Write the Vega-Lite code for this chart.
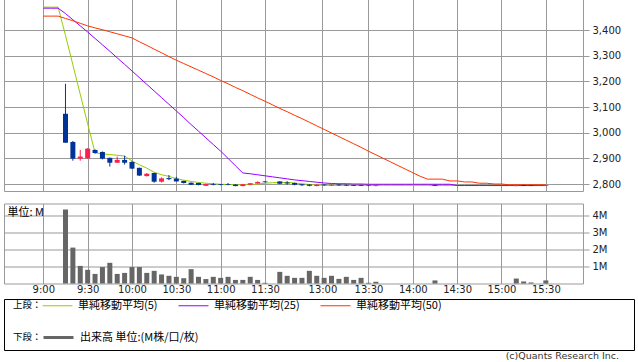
{
  "$schema": "https://vega.github.io/schema/vega-lite/v6.json",
  "padding": {"left": 3, "top": -3, "right": 0, "bottom": 0},
  "background": "white",
  "config": {
    "font": "DejaVu Sans",
    "axis": {"labelFont": "DejaVu Sans", "labelFontSize": 10, "labelColor": "#222", "gridColor": "#999", "gridWidth": 1, "domainColor": "#999", "tickColor": "#999", "labelFlush": false},
    "legend": {"padding": 0, "labelFont": "Noto Sans CJK JP", "labelFontSize": 11, "labelColor": "#000", "titleFont": "Noto Sans CJK JP", "titleFontSize": 9.5, "titleFontWeight": "normal", "titleColor": "#000"},
    "title": {"font": "DejaVu Sans", "fontWeight": "normal"}
  },
  "datasets": {
    "bars": [
      {"t": "9:15", "s": 3, "o": 3074, "h": 3191, "l": 2961, "c": 2961, "v": 4.33},
      {"t": "9:20", "s": 4, "o": 2964, "h": 2968, "l": 2891, "c": 2899, "v": 2.10},
      {"t": "9:25", "s": 5, "o": 2899, "h": 2933, "l": 2891, "c": 2907, "v": 1.03},
      {"t": "9:30", "s": 6, "o": 2900, "h": 2940, "l": 2899, "c": 2938, "v": 0.80},
      {"t": "9:35", "s": 7, "o": 2933, "h": 2935, "l": 2918, "c": 2921, "v": 0.56},
      {"t": "9:40", "s": 8, "o": 2925, "h": 2927, "l": 2896, "c": 2899, "v": 0.96},
      {"t": "9:45", "s": 9, "o": 2902, "h": 2903, "l": 2868, "c": 2883, "v": 1.21},
      {"t": "9:50", "s": 10, "o": 2883, "h": 2907, "l": 2882, "c": 2894, "v": 0.56},
      {"t": "9:55", "s": 11, "o": 2894, "h": 2910, "l": 2876, "c": 2883, "v": 0.62},
      {"t": "10:00", "s": 12, "o": 2886, "h": 2889, "l": 2859, "c": 2860, "v": 0.96},
      {"t": "10:05", "s": 13, "o": 2863, "h": 2864, "l": 2831, "c": 2833, "v": 0.96},
      {"t": "10:10", "s": 14, "o": 2831, "h": 2843, "l": 2829, "c": 2840, "v": 0.62},
      {"t": "10:15", "s": 15, "o": 2843, "h": 2844, "l": 2805, "c": 2809, "v": 0.74},
      {"t": "10:20", "s": 16, "o": 2809, "h": 2826, "l": 2806, "c": 2822, "v": 0.53},
      {"t": "10:25", "s": 17, "o": 2823, "h": 2835, "l": 2815, "c": 2819, "v": 0.45},
      {"t": "10:30", "s": 18, "o": 2821, "h": 2828, "l": 2809, "c": 2810, "v": 0.39},
      {"t": "10:35", "s": 19, "o": 2812, "h": 2813, "l": 2802, "c": 2804, "v": 0.31},
      {"t": "10:40", "s": 20, "o": 2805, "h": 2806, "l": 2796, "c": 2797, "v": 0.84},
      {"t": "10:45", "s": 21, "o": 2804, "h": 2805, "l": 2795, "c": 2796, "v": 0.39},
      {"t": "10:50", "s": 22, "o": 2793, "h": 2801, "l": 2792, "c": 2800, "v": 0.26},
      {"t": "10:55", "s": 23, "o": 2800, "h": 2804, "l": 2795, "c": 2797, "v": 0.39},
      {"t": "11:00", "s": 24, "o": 2799, "h": 2800, "l": 2795, "c": 2796, "v": 0.33},
      {"t": "11:05", "s": 25, "o": 2800, "h": 2804, "l": 2795, "c": 2797, "v": 0.39},
      {"t": "11:10", "s": 26, "o": 2798, "h": 2799, "l": 2791, "c": 2792, "v": 0.21},
      {"t": "11:15", "s": 27, "o": 2792, "h": 2800, "l": 2791, "c": 2799, "v": 0.21},
      {"t": "11:20", "s": 28, "o": 2797, "h": 2804, "l": 2796, "c": 2803, "v": 0.39},
      {"t": "11:25", "s": 29, "o": 2802, "h": 2810, "l": 2801, "c": 2808, "v": 0.21},
      {"t": "11:30", "s": 30, "o": 2810, "h": 2811, "l": 2806, "c": 2807, "v": 0.04},
      {"t": "12:30", "s": 32, "o": 2810, "h": 2811, "l": 2799, "c": 2801, "v": 0.68},
      {"t": "12:35", "s": 33, "o": 2806, "h": 2811, "l": 2797, "c": 2802, "v": 0.45},
      {"t": "12:40", "s": 34, "o": 2804, "h": 2805, "l": 2795, "c": 2797, "v": 0.33},
      {"t": "12:45", "s": 35, "o": 2799, "h": 2800, "l": 2793, "c": 2795, "v": 0.33},
      {"t": "12:50", "s": 36, "o": 2798, "h": 2799, "l": 2791, "c": 2793, "v": 0.74},
      {"t": "12:55", "s": 37, "o": 2792, "h": 2799, "l": 2791, "c": 2797, "v": 0.45},
      {"t": "13:00", "s": 38, "o": 2798, "h": 2799, "l": 2793, "c": 2795, "v": 0.33},
      {"t": "13:05", "s": 39, "o": 2794, "h": 2799, "l": 2793, "c": 2797, "v": 0.45},
      {"t": "13:10", "s": 40, "o": 2798, "h": 2799, "l": 2793, "c": 2795, "v": 0.27},
      {"t": "13:15", "s": 41, "o": 2797, "h": 2798, "l": 2792, "c": 2794, "v": 0.39},
      {"t": "13:20", "s": 42, "o": 2796, "h": 2797, "l": 2792, "c": 2793, "v": 0.21},
      {"t": "13:25", "s": 43, "o": 2796, "h": 2797, "l": 2792, "c": 2793, "v": 0.33},
      {"t": "13:30", "s": 44, "o": 2795, "h": 2796, "l": 2792, "c": 2793, "v": 0.04},
      {"t": "13:35", "s": 45, "o": 2792, "h": 2796, "l": 2791, "c": 2795, "v": 0.10},
      {"t": "14:15", "s": 53, "o": 2796, "h": 2797, "l": 2792, "c": 2793, "v": 0.18},
      {"t": "15:10", "s": 64, "o": 2792, "h": 2797, "l": 2791, "c": 2795, "v": 0.29},
      {"t": "15:15", "s": 65, "o": 2796, "h": 2797, "l": 2792, "c": 2793, "v": 0.12},
      {"t": "15:20", "s": 66, "o": 2795, "h": 2796, "l": 2792, "c": 2793, "v": 0.06},
      {"t": "15:30", "s": 68, "o": 2793, "h": 2797, "l": 2792, "c": 2796, "v": 0.18}
    ],
    "ma": [
      {"s": 0, "m5": 3490, "m25": 3486, "m50": 3455},
      {"s": 1, "m5": 3490, "m25": 3486, "m50": 3455},
      {"s": 2, "m5": 3490, "m25": 3486, "m50": 3455},
      {"s": 3, "m5": 3380, "m25": 3465, "m50": 3446},
      {"s": 4, "m5": 3265, "m25": 3441, "m50": 3437},
      {"s": 5, "m5": 3150, "m25": 3417, "m50": 3427},
      {"s": 6, "m5": 3035, "m25": 3393, "m50": 3417},
      {"s": 7, "m5": 2922, "m25": 3368, "m50": 3409},
      {"s": 8, "m5": 2917, "m25": 3343, "m50": 3402},
      {"s": 9, "m5": 2915, "m25": 3318, "m50": 3394},
      {"s": 10, "m5": 2912, "m25": 3292, "m50": 3386},
      {"s": 11, "m5": 2909, "m25": 3267, "m50": 3378},
      {"s": 12, "m5": 2890, "m25": 3241, "m50": 3370},
      {"s": 13, "m5": 2875, "m25": 3215, "m50": 3355},
      {"s": 14, "m5": 2862, "m25": 3189, "m50": 3341},
      {"s": 15, "m5": 2846, "m25": 3163, "m50": 3326},
      {"s": 16, "m5": 2836, "m25": 3137, "m50": 3312},
      {"s": 17, "m5": 2830, "m25": 3111, "m50": 3297},
      {"s": 18, "m5": 2821, "m25": 3085, "m50": 3283},
      {"s": 19, "m5": 2815, "m25": 3059, "m50": 3270},
      {"s": 20, "m5": 2810, "m25": 3032, "m50": 3257},
      {"s": 21, "m5": 2806, "m25": 3006, "m50": 3244},
      {"s": 22, "m5": 2803, "m25": 2980, "m50": 3231},
      {"s": 23, "m5": 2801, "m25": 2954, "m50": 3218},
      {"s": 24, "m5": 2799, "m25": 2928, "m50": 3204},
      {"s": 25, "m5": 2798, "m25": 2900, "m50": 3191},
      {"s": 26, "m5": 2797, "m25": 2871, "m50": 3177},
      {"s": 27, "m5": 2797, "m25": 2843, "m50": 3164},
      {"s": 28, "m5": 2798, "m25": 2840, "m50": 3150},
      {"s": 29, "m5": 2800, "m25": 2836, "m50": 3136},
      {"s": 30, "m5": 2803, "m25": 2832, "m50": 3123},
      {"s": 31, "m5": 2805, "m25": 2828, "m50": 3109},
      {"s": 32, "m5": 2806, "m25": 2824, "m50": 3095},
      {"s": 33, "m5": 2806, "m25": 2820, "m50": 3082},
      {"s": 34, "m5": 2804, "m25": 2816, "m50": 3068},
      {"s": 35, "m5": 2801, "m25": 2813, "m50": 3055},
      {"s": 36, "m5": 2798, "m25": 2810, "m50": 3041},
      {"s": 37, "m5": 2796, "m25": 2807, "m50": 3027},
      {"s": 38, "m5": 2795, "m25": 2804, "m50": 3013},
      {"s": 39, "m5": 2795, "m25": 2802, "m50": 2999},
      {"s": 40, "m5": 2795, "m25": 2801, "m50": 2985},
      {"s": 41, "m5": 2795, "m25": 2801, "m50": 2971},
      {"s": 42, "m5": 2795, "m25": 2800, "m50": 2957},
      {"s": 43, "m5": 2795, "m25": 2800, "m50": 2943},
      {"s": 44, "m5": 2795, "m25": 2799, "m50": 2928},
      {"s": 45, "m5": 2795, "m25": 2799, "m50": 2914},
      {"s": 46, "m5": 2795, "m25": 2799, "m50": 2900},
      {"s": 47, "m5": 2795, "m25": 2799, "m50": 2886},
      {"s": 48, "m5": 2795, "m25": 2799, "m50": 2872},
      {"s": 49, "m5": 2795, "m25": 2799, "m50": 2858},
      {"s": 50, "m5": 2795, "m25": 2799, "m50": 2844},
      {"s": 51, "m5": 2795, "m25": 2799, "m50": 2830},
      {"s": 52, "m5": 2795, "m25": 2799, "m50": 2819},
      {"s": 53, "m5": 2794, "m25": 2799, "m50": 2819},
      {"s": 54, "m5": 2794, "m25": 2799, "m50": 2819},
      {"s": 55, "m5": 2794, "m25": 2799, "m50": 2812},
      {"s": 56, "m5": 2794, "m25": 2794, "m50": 2812},
      {"s": 57, "m5": 2794, "m25": 2794, "m50": 2808},
      {"s": 58, "m5": 2794, "m25": 2794, "m50": 2808},
      {"s": 59, "m5": 2794, "m25": 2794, "m50": 2803},
      {"s": 60, "m5": 2794, "m25": 2794, "m50": 2803},
      {"s": 61, "m5": 2794, "m25": 2794, "m50": 2800},
      {"s": 62, "m5": 2794, "m25": 2794, "m50": 2800},
      {"s": 63, "m5": 2794, "m25": 2794, "m50": 2797},
      {"s": 64, "m5": 2794, "m25": 2794, "m50": 2797},
      {"s": 65, "m5": 2794, "m25": 2794, "m50": 2797},
      {"s": 66, "m5": 2794, "m25": 2794, "m50": 2797},
      {"s": 67, "m5": 2794, "m25": 2794, "m50": 2797},
      {"s": 68, "m5": 2794, "m25": 2794, "m50": 2797}
    ]
  },
  "spacing": 3,
  "vconcat": [
    {
      "spacing": 10.5,
      "vconcat": [
        {
          "width": 579,
          "height": 193,
          "view": {"stroke": "#999"},
          "layer": [
            {
              "data": {"name": "ma"},
              "transform": [{"fold": ["m5", "m25", "m50"], "as": ["k", "val"]}],
              "mark": {"type": "line", "strokeWidth": 1, "interpolate": "linear"},
              "encoding": {
                "x": {"field": "s", "type": "quantitative", "scale": {"domain": [-5.32, 73.03], "nice": false, "zero": false, "padding": 0},
                  "axis": {"orient": "bottom", "values": [0, 6, 12, 18, 24, 30, 37.77, 44, 50, 56, 62, 68], "grid": true, "labels": false, "ticks": false, "domain": false, "title": null}},
                "y": {"field": "val", "type": "quantitative", "scale": {"domain": [2772.7, 3525.7], "nice": false, "zero": false, "padding": 0},
                  "axis": {"orient": "right", "values": [2800, 2900, 3000, 3100, 3200, 3300, 3400], "format": ",d", "grid": true, "ticks": true, "tickSize": 6, "labelPadding": 3, "domain": false, "title": null}},
                "stroke": {"field": "k", "type": "nominal",
                  "scale": {"domain": ["m5", "m25", "m50"], "range": ["#99cc00", "#9900ff", "#ff3300"]},
                  "legend": {"orient": "none", "legendX": 9, "legendY": 292, "direction": "horizontal", "title": "上段：", "titleOrient": "left", "titleAnchor": "middle", "titleBaseline": "top", "titlePadding": 0, "symbolType": "stroke", "symbolSize": 900, "symbolStrokeWidth": 1, "labelOffset": 5, "columnPadding": 18, "labelLimit": 300,
                    "labelExpr": "datum.label == 'm5' ? '単純移動平均(5)' : datum.label == 'm25' ? '単純移動平均(25)' : '単純移動平均(50)'"}}
              }
            },
            {
              "data": {"name": "bars"},
              "mark": {"type": "rule", "strokeWidth": 1},
              "encoding": {
                "x": {"field": "s", "type": "quantitative", "scale": {"domain": [-5.32, 73.03], "nice": false, "zero": false, "padding": 0},
                  "axis": {"orient": "bottom", "values": [0, 6, 12, 18, 24, 30, 37.77, 44, 50, 56, 62, 68], "grid": true, "labels": false, "ticks": false, "domain": false, "title": null}},
                "y": {"field": "l", "type": "quantitative", "scale": {"domain": [2772.7, 3525.7], "nice": false, "zero": false, "padding": 0},
                  "axis": {"orient": "right", "values": [2800, 2900, 3000, 3100, 3200, 3300, 3400], "format": ",d", "grid": true, "ticks": true, "tickSize": 6, "labelPadding": 3, "domain": false, "title": null}},
                "y2": {"field": "h"},
                "color": {"condition": {"test": "datum.c >= datum.o", "value": "#ff1f4f"}, "value": "#003399"}
              }
            },
            {
              "data": {"name": "bars"},
              "mark": {"type": "bar", "width": 5},
              "encoding": {
                "x": {"field": "s", "type": "quantitative", "scale": {"domain": [-5.32, 73.03], "nice": false, "zero": false, "padding": 0},
                  "axis": {"orient": "bottom", "values": [0, 6, 12, 18, 24, 30, 37.77, 44, 50, 56, 62, 68], "grid": true, "labels": false, "ticks": false, "domain": false, "title": null}},
                "y": {"field": "o", "type": "quantitative", "scale": {"domain": [2772.7, 3525.7], "nice": false, "zero": false, "padding": 0},
                  "axis": {"orient": "right", "values": [2800, 2900, 3000, 3100, 3200, 3300, 3400], "format": ",d", "grid": true, "ticks": true, "tickSize": 6, "labelPadding": 3, "domain": false, "title": null}},
                "y2": {"field": "c"},
                "color": {"condition": {"test": "datum.c >= datum.o", "value": "#ff1f4f"}, "value": "#003399"}
              }
            }
          ]
        },
        {
          "width": 579,
          "height": 80,
          "view": {"stroke": "#999"},
          "data": {"name": "bars"},
          "mark": {"type": "bar", "width": 5},
          "encoding": {
            "x": {"field": "s", "type": "quantitative", "scale": {"domain": [-5.32, 73.03], "nice": false, "zero": false, "padding": 0},
              "axis": {"values": [0, 6, 12, 18, 24, 30, 37.77, 44, 50, 56, 62, 68], "grid": true, "ticks": false, "domain": false, "labelPadding": 1, "title": null,
                "labelExpr": "['9:00','9:30','10:00','10:30','11:00','11:30','13:00','13:30','14:00','14:30','15:00','15:30'][indexof([0,6,12,18,24,30,37.77,44,50,56,62,68], datum.value)]"}},
            "y": {"field": "v", "type": "quantitative", "scale": {"domain": [0, 4.68], "nice": false, "padding": 0},
              "axis": {"orient": "right", "values": [1, 2, 3, 4], "labelExpr": "datum.value + 'M'", "grid": true, "tickSize": 6, "labelPadding": 3, "domain": false,
                "title": "単位: M", "titleAngle": 0, "titleX": -576, "titleY": 12, "titleAlign": "left", "titleBaseline": "alphabetic", "titleFont": "Noto Sans CJK JP", "titleFontSize": 11, "titleFontWeight": "normal", "titleColor": "#000"}},
            "fill": {"datum": "出来高 単位:(M株/口/枚)", "type": "nominal", "scale": {"range": ["#666666"]},
              "legend": {"orient": "none", "legendX": 9, "legendY": 323, "title": "下段：", "titleOrient": "left", "titleAnchor": "middle", "titleBaseline": "top", "titlePadding": 0, "symbolType": "stroke", "symbolSize": 900, "symbolStrokeWidth": 3, "symbolStrokeColor": "#666666", "labelOffset": 5, "labelLimit": 300}}
          }
        }
      ]
    },
    {
      "width": 630,
      "height": 51,
      "view": {"stroke": "#000", "strokeWidth": 1},
      "data": {"values": [{"n": ""}]},
      "mark": {"type": "text"},
      "encoding": {"text": {"field": "n"}},
      "title": {"text": "(c)Quants Research Inc.", "orient": "bottom", "anchor": "end", "fontSize": 9.5, "fontWeight": "normal", "color": "#333", "offset": 1, "dx": -15}
    }
  ]
}
